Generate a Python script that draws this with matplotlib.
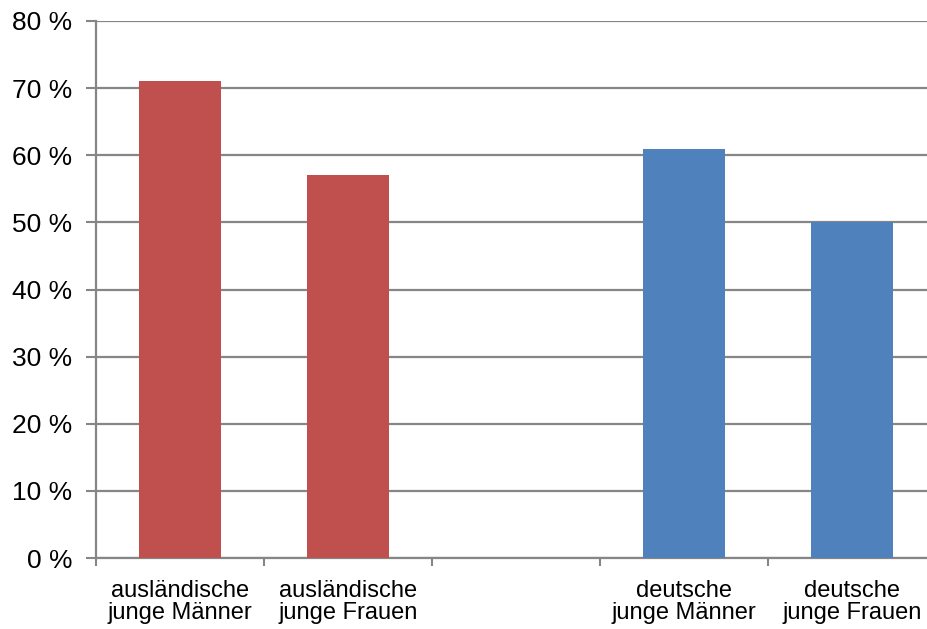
import numpy as np
import matplotlib.pyplot as plt

# Daten
kategorien = ["ausländische\njunge Männer", "ausländische\njunge Frauen", "",
              "deutsche\njunge Männer", "deutsche\njunge Frauen"]
werte = [71, 57, np.nan, 61, 50]
farben = ["#C0504D", "#C0504D", "#FFFFFF", "#4F81BD", "#4F81BD"]
y_ticks = [0, 10, 20, 30, 40, 50, 60, 70, 80]
y_labels = [f"{v} %" for v in y_ticks]

plt.rcParams['font.family'] = ['Liberation Sans', 'DejaVu Sans']
GRAU = "#868686"

fig = plt.figure(figsize=(9.28, 6.29), dpi=100)
ax = fig.add_axes([96 / 928, 71 / 629, 840 / 928, 537 / 629])

x = np.arange(len(kategorien))
for xi, v, c in zip(x, werte, farben):
    if not np.isnan(v):
        ax.bar(xi, v, width=0.49, color=c, zorder=3)

ax.set_xlim(-0.5, len(kategorien) - 0.5)
ax.set_ylim(0, 80)

ax.set_yticks(y_ticks)
ax.set_yticklabels(y_labels, fontsize=19)
ax.yaxis.grid(True, color=GRAU, linewidth=1.6, zorder=0)
ax.tick_params(axis='y', length=7, width=1.5, color=GRAU, pad=10)

ax.set_xticks(x)
ax.set_xticklabels(kategorien, fontsize=17, linespacing=1.0)
ax.tick_params(axis='x', which='major', length=0, pad=16)
ax.set_xticks(np.arange(-0.5, len(kategorien)), minor=True)
ax.tick_params(axis='x', which='minor', length=6, width=1.5, color=GRAU)

for s in ['top', 'right']:
    ax.spines[s].set_visible(False)
for s in ['left', 'bottom']:
    ax.spines[s].set_color(GRAU)
    ax.spines[s].set_linewidth(1.6)

fig.savefig("out.png", dpi=100)
